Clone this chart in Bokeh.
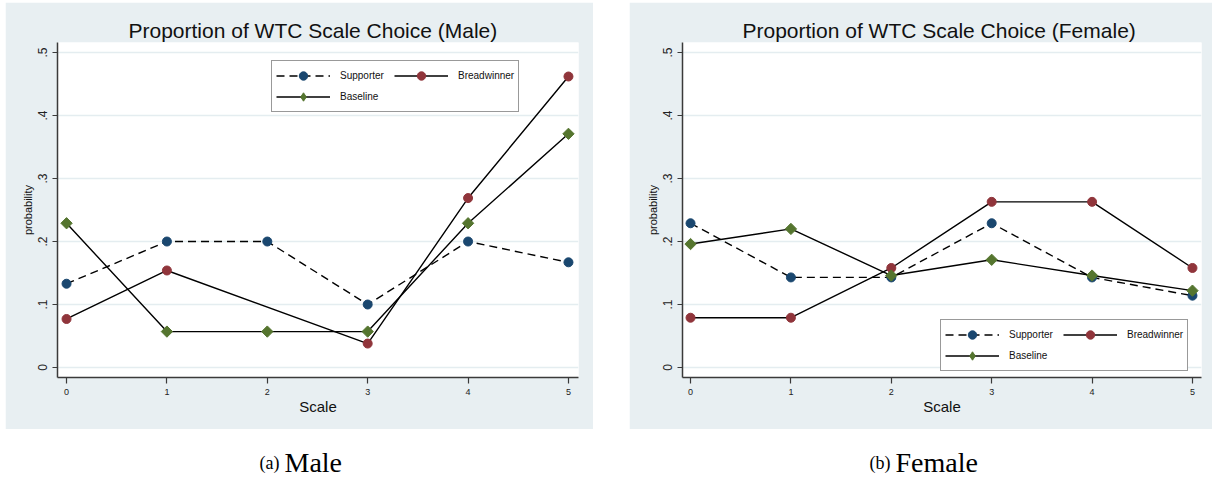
import numpy as np
from bokeh.plotting import figure
from bokeh.models import Range1d, FixedTicker, Legend, LegendItem, Spacer, ColumnDataSource
from bokeh.layouts import row, column
from bokeh.core.properties import value
from bokeh.embed import file_html
from bokeh.resources import INLINE

# ---------------- data ----------------
scale = [0, 1, 2, 3, 4, 5]
series_names = ["Supporter", "Breadwinner", "Baseline"]

male_supporter = [0.133, 0.200, 0.200, 0.100, 0.200, 0.167]
male_breadwinner = [0.077, 0.154, None, 0.038, 0.269, 0.462]
male_baseline = [0.229, 0.057, 0.057, 0.057, 0.229, 0.371]

female_supporter = [0.229, 0.143, 0.143, 0.229, 0.143, 0.114]
female_breadwinner = [0.079, 0.079, 0.158, 0.263, 0.263, 0.158]
female_baseline = [0.196, 0.220, 0.146, 0.171, 0.146, 0.122]

titles = ["Proportion of WTC Scale Choice (Male)", "Proportion of WTC Scale Choice (Female)"]
y_ticks = [0, 0.1, 0.2, 0.3, 0.4, 0.5]
y_tick_labels = ["0", ".1", ".2", ".3", ".4", ".5"]
x_label = "Scale"
y_label = "probability"
caption_tags = ["(a)", "(b)"]
caption_names = ["Male", "Female"]

# ---------------- styles ----------------
BG = "#e8eff2"
GRID = "#e4edf0"
AX = "#3a3a3a"
COLORS = {"Supporter": "#1a476f", "Breadwinner": "#90353b", "Baseline": "#55752f"}
DASH = {"Supporter": "8 5", "Breadwinner": "solid", "Baseline": "solid"}
SANS = "Liberation Sans"


def make_panel(title, series, width, bl, br, xr, legend_loc, title_offset):
    p = figure(width=width, height=427, x_range=Range1d(*xr), y_range=Range1d(-0.0159, 0.516),
               output_backend="svg", toolbar_location=None,
               min_border_left=bl, min_border_right=br, min_border_top=40, min_border_bottom=52)
    p.border_fill_color = BG
    p.background_fill_color = "white"
    p.outline_line_color = None

    p.title.text = title
    p.title.align = "left"
    p.title.text_font = SANS
    p.title.text_font_size = "21px"
    p.title.text_font_style = "normal"
    p.title.text_color = "#111111"
    p.title.standoff = 2
    p.title.offset = title_offset

    p.xaxis.ticker = FixedTicker(ticks=scale)
    p.yaxis.ticker = FixedTicker(ticks=y_ticks)
    p.yaxis.major_label_overrides = {t: l for t, l in zip(y_ticks, y_tick_labels)}
    p.yaxis.major_label_orientation = "vertical"
    for ax in (p.xaxis, p.yaxis):
        ax.axis_line_color = AX
        ax.axis_line_width = 1.5
        ax.major_tick_line_color = AX
        ax.major_tick_line_width = 1.2
        ax.major_tick_in = 0
        ax.minor_tick_line_color = None
        ax.major_label_text_font = SANS
        ax.major_label_text_color = "#222222"
        ax.axis_label_text_font = SANS
        ax.axis_label_text_font_style = "normal"
        ax.axis_label_text_color = "#111111"
    p.xaxis.major_tick_out = 6
    p.yaxis.major_tick_out = 5
    p.xaxis.major_label_text_font_size = "9px"
    p.yaxis.major_label_text_font_size = "12px"
    p.xaxis.major_label_standoff = 5
    p.yaxis.major_label_standoff = 5
    p.xaxis.axis_label = x_label
    p.yaxis.axis_label = y_label
    p.xaxis.axis_label_text_font_size = "15px"
    p.yaxis.axis_label_text_font_size = "11px"
    p.xaxis.axis_label_standoff = 0
    p.yaxis.axis_label_standoff = 2

    p.xgrid.visible = False
    p.ygrid.grid_line_color = GRID
    p.ygrid.grid_line_width = 1.5

    items = {}
    for name, vals in series:
        xs = [x for x, v in zip(scale, vals) if v is not None]
        ys = [v for v in vals if v is not None]
        src = ColumnDataSource(dict(x=xs, y=ys, ang=[np.pi / 4] * len(xs)))
        ln = p.line("x", "y", source=src, line_color="black", line_width=1.4, line_dash=DASH[name])
        if name == "Baseline":
            p.scatter("x", "y", source=src, marker="square", angle="ang", size=8,
                      fill_color=COLORS[name], line_color=COLORS[name])
            # legend-only proxy marker (legend glyphs ignore marker angle); NaN => not drawn in plot
            proxy = ColumnDataSource(dict(x=[np.nan], y=[np.nan]))
            mk = p.scatter("x", "y", source=proxy, marker="diamond", size=12,
                           fill_color=COLORS[name], line_color=COLORS[name])
        else:
            mk = p.scatter("x", "y", source=src, marker="circle", size=9,
                           fill_color=COLORS[name], line_color=COLORS[name])
        items[name] = LegendItem(label=name, renderers=[ln, mk])

    legend = Legend(items=[items[n] for n in series_names], location=legend_loc,
                    orientation="horizontal", ncols=2)
    legend.border_line_color = "#333333"
    legend.border_line_width = 1
    legend.background_fill_color = "white"
    legend.background_fill_alpha = 1
    legend.label_text_font = SANS
    legend.label_text_font_size = "10px"
    legend.label_text_color = "#111111"
    legend.glyph_width = 54
    legend.glyph_height = 21
    legend.label_height = 21
    legend.label_width = 54
    legend.label_standoff = 10
    legend.spacing = 0
    legend.padding = 4
    legend.margin = 0
    p.add_layout(legend)
    return p


p1 = make_panel(titles[0],
                [("Supporter", male_supporter), ("Breadwinner", male_breadwinner), ("Baseline", male_baseline)],
                588, 52, 15, (-0.09, 5.1), (214, 265), 71)
p2 = make_panel(titles[1],
                [("Supporter", female_supporter), ("Breadwinner", female_breadwinner), ("Baseline", female_baseline)],
                583, 53, 11, (-0.08, 5.09), (258, 6), 60)

cap = figure(width=1212, height=51, x_range=Range1d(0, 1212), y_range=Range1d(0, 51),
             x_axis_type=None, y_axis_type=None, min_border=0, output_backend="svg",
             toolbar_location=None)
cap.outline_line_color = None
cap.xgrid.visible = False
cap.ygrid.visible = False
cap_tag_x = [279, 890]
cap_name_x = [284, 895]
cap_y = [18, 18]
cap.text(x=cap_tag_x, y=cap_y, text=caption_tags, text_align="right", text_baseline="middle",
         text_font=value("Liberation Serif"), text_font_size="18px", text_color="black")
cap.text(x=cap_name_x, y=cap_y, text=caption_names, text_align="left", text_baseline="middle",
         text_font=value("Liberation Serif"), text_font_size="28px", text_color="black")

layout = column(Spacer(width=1212, height=2),
                row(Spacer(width=5, height=427), p1, Spacer(width=36, height=427), p2),
                cap)
open("out.html", "w").write(file_html(layout, INLINE))
